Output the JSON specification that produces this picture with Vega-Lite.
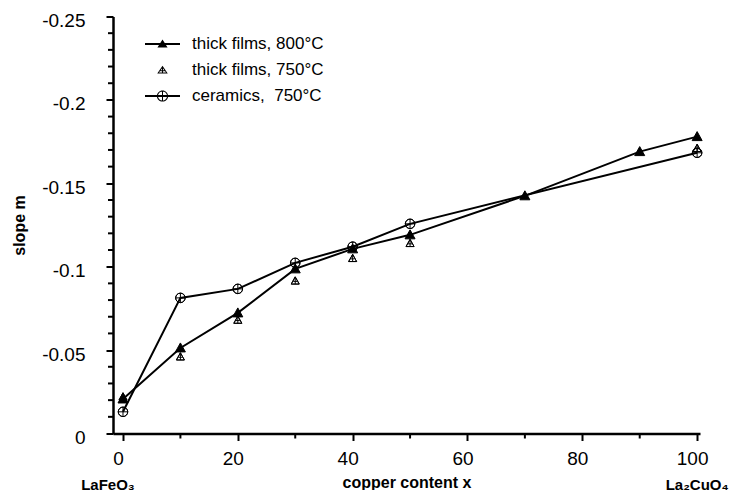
{
  "$schema": "https://vega.github.io/schema/vega-lite/v6.json",
  "width": 587,
  "height": 417,
  "autosize": {"type": "none"},
  "padding": {"left": 113, "top": 16.5, "right": 43, "bottom": 56.5},
  "background": "white",
  "config": {"view": {"stroke": null}, "font": "Liberation Sans"},
  "datasets": {
    "pts": [
      {"x": 0, "slope": -0.0207, "series": "thick films, 800°C"},
      {"x": 10, "slope": -0.0513, "series": "thick films, 800°C"},
      {"x": 20, "slope": -0.0723, "series": "thick films, 800°C"},
      {"x": 30, "slope": -0.0987, "series": "thick films, 800°C"},
      {"x": 40, "slope": -0.1107, "series": "thick films, 800°C"},
      {"x": 50, "slope": -0.1191, "series": "thick films, 800°C"},
      {"x": 70, "slope": -0.1425, "series": "thick films, 800°C"},
      {"x": 90, "slope": -0.169, "series": "thick films, 800°C"},
      {"x": 100, "slope": -0.178, "series": "thick films, 800°C"},
      {"x": 0, "slope": -0.022, "series": "thick films, 750°C"},
      {"x": 10, "slope": -0.046, "series": "thick films, 750°C"},
      {"x": 20, "slope": -0.068, "series": "thick films, 750°C"},
      {"x": 30, "slope": -0.0915, "series": "thick films, 750°C"},
      {"x": 40, "slope": -0.105, "series": "thick films, 750°C"},
      {"x": 50, "slope": -0.114, "series": "thick films, 750°C"},
      {"x": 100, "slope": -0.171, "series": "thick films, 750°C"},
      {"x": 0, "slope": -0.013, "series": "ceramics, \u00a0750°C"},
      {"x": 10, "slope": -0.0813, "series": "ceramics, \u00a0750°C"},
      {"x": 20, "slope": -0.0867, "series": "ceramics, \u00a0750°C"},
      {"x": 30, "slope": -0.1023, "series": "ceramics, \u00a0750°C"},
      {"x": 40, "slope": -0.112, "series": "ceramics, \u00a0750°C"},
      {"x": 50, "slope": -0.1257, "series": "ceramics, \u00a0750°C"},
      {"x": 100, "slope": -0.1683, "series": "ceramics, \u00a0750°C"}
    ]
  },
  "layer": [
    {
      "data": {"name": "pts"},
      "transform": [{"filter": "datum.series != 'thick films, 750°C'"}],
      "mark": {"type": "line", "color": "black", "strokeWidth": 2},
      "encoding": {
        "x": {
          "field": "x", "type": "quantitative",
          "scale": {"domain": [-1.74, 100.5], "nice": false, "zero": false},
          "axis": {
            "values": [0, 20, 40, 60, 80, 100],
            "tickCount": 40,
            "tickSize": 7,
            "tickWidth": 2, "tickColor": "black",
            "domainColor": "black", "domainWidth": 2.5,
            "grid": false,
            "labelFontSize": 19, "labelColor": "black", "labelPadding": 9, "labelOffset": -5,
            "labelOverlap": false, "labelFlush": false, "labelBound": false,
            "title": "copper content x", "titleFontSize": 16, "titleFontWeight": "bold",
            "titleColor": "black", "titlePadding": 6
          }
        },
        "y": {
          "field": "slope", "type": "quantitative",
          "scale": {"domain": [0, -0.25], "nice": false, "zero": false},
          "axis": {
            "values": [0, -0.05, -0.1, -0.15, -0.2, -0.25],
            "tickCount": 60,
            "labelExpr": "datum.value == 0 ? '0' : '-' + format(-datum.value, '~g')",
            "tickSize": 7,
            "tickWidth": 2, "tickColor": "black",
            "domainColor": "black", "domainWidth": 2.5,
            "grid": false,
            "labelFontSize": 19, "labelColor": "black", "labelPadding": 21, "labelOffset": 4,
            "labelOverlap": false, "labelFlush": false, "labelBound": false,
            "title": "slope m", "titleFontSize": 16, "titleFontWeight": "bold",
            "titleColor": "black", "titlePadding": 14
          }
        },
        "detail": {"field": "series"}
      }
    },
    {
      "data": {"values": [{"v": 10}, {"v": 30}, {"v": 50}, {"v": 70}, {"v": 90}]},
      "mark": {"type": "tick", "orient": "vertical", "size": 5, "thickness": 2, "color": "black", "opacity": 1, "yOffset": 2.5},
      "encoding": {
        "x": {"field": "v", "type": "quantitative"},
        "y": {"datum": 0}
      }
    },
    {
      "data": {"values": [{"v": -0.01}, {"v": -0.02}, {"v": -0.03}, {"v": -0.04}, {"v": -0.06}, {"v": -0.07}, {"v": -0.08}, {"v": -0.09}, {"v": -0.11}, {"v": -0.12}, {"v": -0.13}, {"v": -0.14}, {"v": -0.16}, {"v": -0.17}, {"v": -0.18}, {"v": -0.19}, {"v": -0.21}, {"v": -0.22}, {"v": -0.23}, {"v": -0.24}]},
      "mark": {"type": "tick", "orient": "horizontal", "size": 5, "thickness": 2, "color": "black", "opacity": 1, "xOffset": -2.5},
      "encoding": {
        "y": {"field": "v", "type": "quantitative"},
        "x": {"datum": -1.74}
      }
    },
    {
      "data": {"name": "pts"},
      "mark": {"type": "point", "filled": true, "fill": "black", "stroke": "black", "strokeWidth": 1, "opacity": 1, "size": 100},
      "encoding": {
        "x": {"field": "x", "type": "quantitative"},
        "y": {"field": "slope", "type": "quantitative"},
        "shape": {
          "field": "series",
          "scale": {
            "domain": ["thick films, 800°C", "thick films, 750°C", "ceramics, \u00a0750°C"],
            "range": [
              "M0,-1L1,0.8L-1,0.8Z",
              "M0,-0.8L0.8,0.64L-0.8,0.64Z M0,-0.8L-0.8,0.64L0.8,0.64Z M0,-0.8L0,0.64 M-0.4,0.1L0.4,0.1",
              "M-0.95,0A0.95,0.95 0 1,0 0.95,0A0.95,0.95 0 1,0 -0.95,0Z M-0.95,0A0.95,0.95 0 1,1 0.95,0A0.95,0.95 0 1,1 -0.95,0Z M-0.95,0L0.95,0 M0,-0.95L0,0.95"
            ]
          },
          "legend": null
        }
      }
    },
    {
      "data": {"name": "pts"},
      "transform": [{"filter": "false"}],
      "mark": {"type": "point", "filled": true, "fill": "black", "opacity": 1, "size": 1225},
      "encoding": {
        "x": {"field": "x", "type": "quantitative"},
        "y": {"field": "slope", "type": "quantitative"},
        "shape": {
          "field": "series",
          "scale": {
            "domain": ["thick films, 800°C", "thick films, 750°C", "ceramics, \u00a0750°C"],
            "range": [
              "M-1,-0.057L1,-0.057L1,0.057L-1,0.057Z M0,-0.26L0.29,0.2L-0.29,0.2Z",
              "M0,-0.24L0.3,0.2L-0.3,0.2Z M0,-0.13L-0.2,0.143L0.2,0.143Z M-0.028,-0.16L0.028,-0.16L0.028,0.15L-0.028,0.15Z M-0.13,0.01L0.13,0.01L0.13,0.065L-0.13,0.065Z",
              "M-1,-0.057L1,-0.057L1,0.057L-1,0.057Z M-0.32,0A0.32,0.32 0 1,1 0.32,0A0.32,0.32 0 1,1 -0.32,0Z M-0.26,0A0.26,0.26 0 1,0 0.26,0A0.26,0.26 0 1,0 -0.26,0Z M-0.028,-0.3L0.028,-0.3L0.028,0.3L-0.028,0.3Z"
            ]
          },
          "legend": {
            "title": null, "orient": "none", "legendX": 32, "legendY": 10,
            "padding": 0, "symbolSize": 1225, "symbolFillColor": "black",
            "symbolStrokeWidth": 0, "symbolOpacity": 1,
            "labelFontSize": 17, "labelColor": "black", "labelFont": "Liberation Sans",
            "labelOffset": 12, "rowPadding": 0, "labelLimit": 300
          }
        }
      }
    },
    {
      "data": {"values": [{"x": 0, "label": "LaFeO₃"}]},
      "mark": {"type": "text", "fontSize": 15, "fontWeight": "bold", "color": "black", "baseline": "middle", "align": "center", "dy": 51, "dx": -15},
      "encoding": {
        "x": {"field": "x", "type": "quantitative"},
        "y": {"datum": 0},
        "text": {"field": "label"}
      }
    },
    {
      "data": {"values": [{"x": 100, "label": "La₂CuO₄"}]},
      "mark": {"type": "text", "fontSize": 15, "fontWeight": "bold", "color": "black", "baseline": "middle", "align": "center", "dy": 51, "dx": 0},
      "encoding": {
        "x": {"field": "x", "type": "quantitative"},
        "y": {"datum": 0},
        "text": {"field": "label"}
      }
    }
  ],
  "resolve": {"scale": {"shape": "independent"}, "legend": {"shape": "independent"}}
}
